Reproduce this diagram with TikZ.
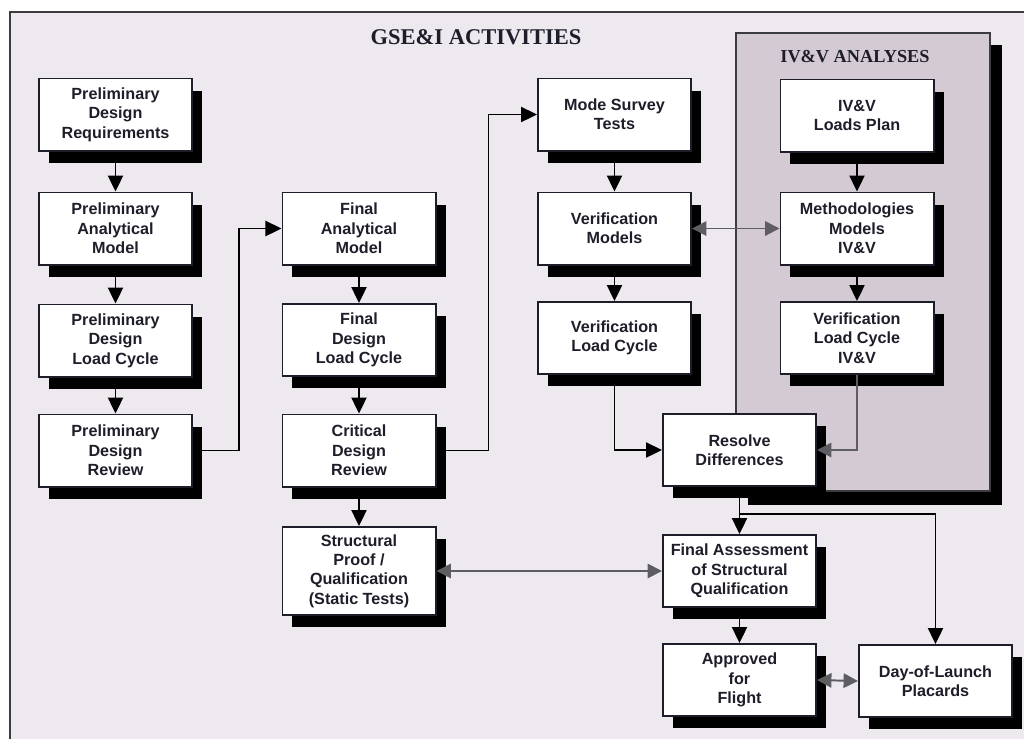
\documentclass[tikz,border=0pt]{standalone}
\usepackage{fontspec}
\setmainfont{Liberation Sans}
\newfontfamily\headfont{Liberation Serif}
\usetikzlibrary{arrows.meta,shadows}
\definecolor{ink}{HTML}{1E1E2A}
\definecolor{wire}{HTML}{5E5E62}
\definecolor{paper}{HTML}{EEE8EF}
\definecolor{ivvbg}{HTML}{D3CAD3}
\definecolor{framegray}{HTML}{3C3C40}

\begin{document}
\begin{tikzpicture}[x=0.025cm,y=-0.025cm,
  task/.style={draw=ink,line width=1.4pt,fill=white,minimum width=3.825cm,minimum height=1.8cm,
    align=center,inner sep=1pt,text=ink,font=\fontsize{11.5}{13.8}\selectfont\bfseries,
    general shadow={fill=black,shadow xshift=0.25cm,shadow yshift=-0.3cm}},
  flow/.style={draw=black,line width=1.1pt,-{Triangle[length=0.4cm,width=0.38cm]}},
  link/.style={draw=wire,line width=1.4pt,{Triangle[length=0.36cm,width=0.36cm]}-{Triangle[length=0.36cm,width=0.36cm]}},
  heading/.style={text=ink,font=\headfont\bfseries}]
  \useasboundingbox (0,0) rectangle (1024,739);
  \fill[white] (0,0) rectangle (1024,739);
  \fill[paper] (10,12) rectangle (1024,739);
  \draw[framegray,line width=1.3pt] (10,739) -- (10,12) -- (1024,12);

  % IV&V panel
  \fill[black] (748,45) rectangle (1002,505);
  \draw[framegray,fill=ivvbg,line width=1.1pt] (736,33) rectangle (990,491);
  \node[heading,font=\headfont\bfseries\fontsize{16}{18}\selectfont] (gsei) at (476,37) {GSE\&I ACTIVITIES};
  \node[heading,font=\headfont\bfseries\fontsize{13}{15}\selectfont] (ivv) at (855,57) {IV\&V ANALYSES};

  % preliminary column
  \node[task] (pdreq) at (115.5,114.5) {Preliminary\\Design\\Requirements};
  \node[task] (pam) at (115.5,228.5) {Preliminary\\Analytical\\Model};
  \node[task] (pdlc) at (115.5,340.5) {Preliminary\\Design\\Load Cycle};
  \node[task] (pdr) at (115.5,450.5) {Preliminary\\Design\\Review};

  % final column
  \node[task] (fam) at (359,228.5) {Final\\Analytical\\Model};
  \node[task] (fdlc) at (359,340) {Final\\Design\\Load Cycle};
  \node[task] (cdr) at (359,450.5) {Critical\\Design\\Review};
  \node[task,minimum height=2.2cm] (spq) at (359,571) {Structural\\Proof /\\Qualification\\(Static Tests)};

  % verification column
  \node[task] (mst) at (614.5,114.5) {Mode Survey\\Tests};
  \node[task] (vm) at (614.5,228.5) {Verification\\Models};
  \node[task] (vlc) at (614.5,338) {Verification\\Load Cycle};

  % IV&V column
  \node[task] (lp) at (857,115.5) {IV\&V\\Loads Plan};
  \node[task] (mm) at (857,228.5) {Methodologies\\Models\\IV\&V};
  \node[task] (vlciv) at (857,338) {Verification\\Load Cycle\\IV\&V};

  \node[task] (rd) at (739.5,450) {Resolve\\Differences};
  \node[task] (fa) at (739.5,571) {Final Assessment\\of Structural\\Qualification};
  \node[task] (aff) at (739.5,680) {Approved\\for\\Flight};
  \node[task] (dol) at (935.5,681) {Day-of-Launch\\Placards};

  \draw[flow] (pdreq) -- (pam);
  \draw[flow] (pam) -- (pdlc);
  \draw[flow] (pdlc) -- (pdr);
  \draw[flow] (pdr.east) -- ++(46,0) |- (fam.west);
  \draw[flow] (fam) -- (fdlc);
  \draw[flow] (fdlc) -- (cdr);
  \draw[flow] (cdr) -- (spq);
  \draw[flow] (cdr.east) -- ++(52,0) |- (mst.west);
  \draw[flow] (mst) -- (vm);
  \draw[flow] (vm) -- (vlc);
  \draw[flow] (lp) -- (mm);
  \draw[flow] (mm) -- (vlciv);
  \draw[link] (vm.east) -- (mm.west);
  \draw[flow] (vlc.south) |- (rd.west);
  \draw[draw=wire,line width=1.4pt,-{Triangle[length=0.36cm,width=0.36cm]}] (vlciv.south) |- (rd.east);
  \draw[flow] (rd) -- (fa);
  \draw[flow] (rd.south) -- ++(0,27) -| (dol.north);
  \draw[link] (spq.east) -- (fa.west);
  \draw[flow] (fa) -- (aff);
  \draw[link] (aff.east) -- (dol.west);
\end{tikzpicture}
\end{document}
